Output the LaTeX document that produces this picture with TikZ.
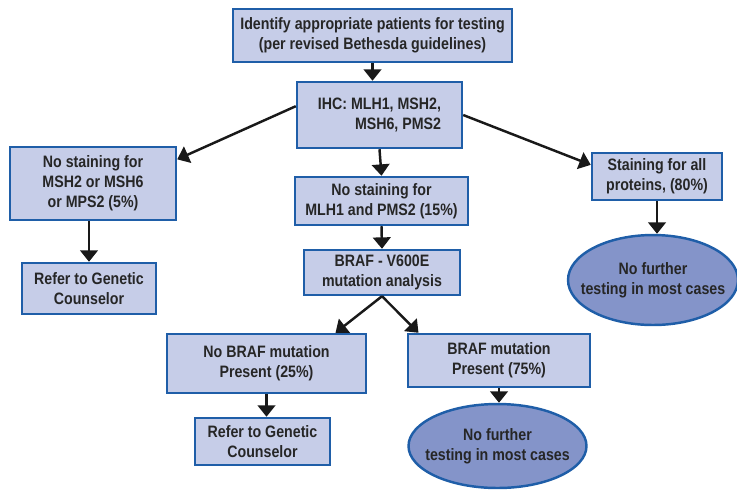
\documentclass[tikz,border=0pt]{standalone}
\usepackage{fontspec}
\setmainfont{Liberation Sans}[FakeStretch=0.86]
\usetikzlibrary{arrows.meta, positioning, shapes.geometric}

\definecolor{boxfill}{HTML}{C6CDE8}
\definecolor{boxline}{HTML}{1F5EA8}
\definecolor{ovalfill}{HTML}{8494C9}

\begin{document}
\begin{tikzpicture}[
    x=0.02cm, y=-0.02cm,
    every node/.style={font=\bfseries\fontsize{9.4}{11.4}\selectfont, text=black!85},
    stepbox/.style={rectangle, draw=boxline, fill=boxfill, line width=1.4pt, align=center, inner sep=0pt},
    endoval/.style={ellipse, draw=boxline, fill=ovalfill, line width=1.4pt, align=center, inner xsep=-9pt, inner ysep=0pt},
    arr/.style={-{Triangle[length=6.5pt, width=10pt]}, line width=1.4pt, black!90}
]
    \useasboundingbox (0,0) rectangle (737,495);

    % Schritte
    \node[stepbox, minimum width=5.58cm, minimum height=1.06cm] (ident) at (372.5,35.5) {Identify appropriate patients for testing\\(per revised Bethesda guidelines)};
    \node[stepbox, minimum width=3.3cm, minimum height=1.32cm, align=right] (ihc) at (379.5,115) {IHC: MLH1, MSH2,\\MSH6, PMS2};

    \node[stepbox, minimum width=3.32cm, minimum height=1.46cm] (nsl) at (93,183.5) {No staining for\\MSH2 or MSH6\\or MPS2 (5\%)};
    \node[stepbox, minimum width=3.46cm, minimum height=0.96cm] (nsm) at (381.5,201) {No staining for\\MLH1 and PMS2 (15\%)};
    \node[stepbox, minimum width=2.6cm, minimum height=0.94cm] (sall) at (657,176.5) {Staining for all\\proteins, (80\%)};

    \node[stepbox, minimum width=2.68cm, minimum height=1.02cm] (ref1) at (89,288.5) {Refer to Genetic\\Counselor};
    \node[stepbox, minimum width=3.12cm, minimum height=0.9cm] (braf) at (382,272.5) {BRAF - V600E\\mutation analysis};
    \node[endoval, minimum width=3.4cm, minimum height=1.8cm] (nf1) at (653,280) {No further\\testing in most cases};

    \node[stepbox, minimum width=3.98cm, minimum height=1.18cm] (nbm) at (266.5,363.5) {No BRAF mutation\\Present (25\%)};
    \node[stepbox, minimum width=3.64cm, minimum height=1.06cm] (bm) at (499,360.5) {BRAF mutation\\Present (75\%)};

    \node[stepbox, minimum width=2.7cm, minimum height=0.94cm] (ref2) at (262.5,441.5) {Refer to Genetic\\Counselor};
    \node[endoval, minimum width=3.56cm, minimum height=1.68cm] (nf2) at (497.5,446) {No further\\testing in most cases};

    % Pfeile
    \draw[arr] (ident.south) -- (ident.south |- ihc.north);
    \draw[arr] (ihc.174) -- (nsl.16);
    \draw[arr] (ihc.east) -- (sall.170);
    \draw[arr] (ihc.south) -- (nsm.north);
    \draw[arr] (nsl.south -| ref1.north) -- (ref1.north);
    \draw[arr] (sall.south) -- (sall.south |- nf1.north);
    \draw[arr] (nsm.south) -- (braf.north);
    \draw[arr] (braf.south) -- (nbm.24);
    \draw[arr] (braf.south) -- (bm.161);
    \draw[arr] (nbm.south) -- (nbm.south |- ref2.north);
    \draw[arr] (bm.south) -- (bm.south |- nf2.north);
\end{tikzpicture}
\end{document}
